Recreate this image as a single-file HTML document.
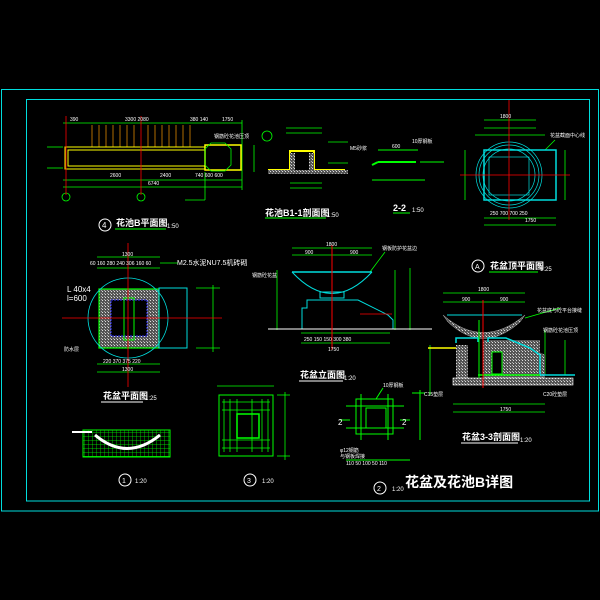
<!DOCTYPE html>
<html><head><meta charset="utf-8"><style>
html,body{margin:0;padding:0;background:#000;}
svg{display:block}
text{font-family:"Liberation Sans","Noto Sans CJK SC",sans-serif;}
</style></head><body>
<svg width="600" height="600" viewBox="0 0 600 600" xmlns="http://www.w3.org/2000/svg">
<defs>
<pattern id="hg" width="3" height="3" patternUnits="userSpaceOnUse"><rect width="3" height="3" fill="#555"/><rect width="1" height="1" fill="#ddd"/><rect x="2" y="2" width="1" height="1" fill="#aaa"/></pattern>
<pattern id="grid" width="4" height="4" patternUnits="userSpaceOnUse"><path d="M0 0H4M0 0V4" stroke="#0f0" stroke-width="0.7"/></pattern>
</defs>
<rect width="600" height="600" fill="#000"/>
<!-- frame -->
<rect x="1.5" y="89.5" width="597" height="421.5" fill="none" stroke="#0dd" stroke-width="1"/>
<rect x="26.5" y="99.5" width="563" height="401.5" fill="none" stroke="#0dd" stroke-width="1"/>

<!-- ===== Plan 4 ===== -->
<g stroke="#0f0" stroke-width="0.8" fill="none">
<line x1="63" y1="123" x2="242" y2="123"/><line x1="63" y1="180" x2="242" y2="180"/><line x1="63" y1="187" x2="242" y2="187"/>
<line x1="47" y1="147" x2="63" y2="147"/><line x1="47" y1="168" x2="63" y2="168"/>
<line x1="242" y1="120" x2="242" y2="190"/><line x1="254" y1="145" x2="254" y2="172"/>
<line x1="205" y1="200" x2="205" y2="172"/><line x1="185" y1="200" x2="205" y2="200"/>
<circle cx="66" cy="197" r="4"/><circle cx="141" cy="197" r="4"/>
</g>
<g stroke="#d80" stroke-width="0.8">
<line x1="92" y1="125" x2="92" y2="147"/><line x1="99" y1="125" x2="99" y2="147"/><line x1="106" y1="125" x2="106" y2="147"/><line x1="113" y1="125" x2="113" y2="147"/><line x1="120" y1="125" x2="120" y2="147"/><line x1="127" y1="125" x2="127" y2="147"/><line x1="134" y1="125" x2="134" y2="147"/><line x1="148" y1="125" x2="148" y2="147"/><line x1="155" y1="125" x2="155" y2="147"/><line x1="162" y1="125" x2="162" y2="147"/><line x1="169" y1="125" x2="169" y2="147"/><line x1="176" y1="125" x2="176" y2="147"/><line x1="183" y1="125" x2="183" y2="147"/><line x1="190" y1="125" x2="190" y2="147"/>
</g>
<g stroke="#ff0" stroke-width="1" fill="none">
<rect x="65" y="147" width="140" height="22"/><rect x="68" y="150" width="137" height="16"/>
<rect x="205" y="145" width="36" height="25" stroke-width="1.5"/>
</g>
<polygon points="211,143 225,143 231,149 231,165 225,171 211,171 205,165 205,149" fill="none" stroke="#0f0" stroke-width="0.8"/>
<line x1="66" y1="116" x2="66" y2="195" stroke="#f00" stroke-width="0.8"/>
<line x1="141" y1="116" x2="141" y2="195" stroke="#f00" stroke-width="0.8"/>
<g fill="#fff" font-size="5">
<text x="70" y="121">390</text><text x="125" y="121">3300  2080</text><text x="190" y="121">380 140</text><text x="222" y="121">1750</text>
<text x="110" y="177">2600</text><text x="160" y="177">2400</text><text x="195" y="177">740  600  600</text><text x="148" y="185">6740</text>
<text x="214" y="138">钢筋砼花池压顶</text>
</g>
<circle cx="105" cy="225" r="6" fill="none" stroke="#fff" stroke-width="1"/><text x="102" y="228" fill="#fff" font-size="8">4</text>
<text x="116" y="226" fill="#fff" font-size="9" font-weight="bold">花池B平面图</text><line x1="115" y1="229" x2="166" y2="229" stroke="#0f0"/><text x="167" y="228" fill="#fff" font-size="6">1:50</text>

<!-- ===== Section 1-1 ===== -->
<g stroke="#0f0" stroke-width="0.8" fill="none">
<line x1="286" y1="133" x2="322" y2="133"/><line x1="286" y1="128" x2="322" y2="128"/>
<line x1="290" y1="183" x2="322" y2="183"/><line x1="290" y1="188" x2="322" y2="188"/>
<line x1="328" y1="142" x2="348" y2="142"/><line x1="328" y1="163" x2="348" y2="163"/>
<circle cx="267" cy="136" r="5"/>
</g>
<path d="M268 170 H290 V151 H314 V170 H345" fill="none" stroke="#ff0" stroke-width="2"/>
<rect x="290" y="153" width="5" height="17" fill="url(#hg)"/><rect x="309" y="153" width="5" height="17" fill="url(#hg)"/>
<rect x="268" y="170" width="80" height="4" fill="url(#hg)"/>
<text x="265" y="216" fill="#fff" font-size="9" font-weight="bold">花池B1-1剖面图</text><line x1="265" y1="218" x2="326" y2="218" stroke="#0f0"/><text x="327" y="217" fill="#fff" font-size="6">1:50</text>

<!-- ===== 2-2 ===== -->
<g stroke="#0f0" stroke-width="1" fill="none">
<line x1="378" y1="150" x2="418" y2="150"/>
<line x1="378" y1="162" x2="416" y2="162" stroke-width="2"/><line x1="372" y1="165" x2="378" y2="162" stroke-width="2"/>
<line x1="420" y1="162" x2="444" y2="162"/><line x1="372" y1="180" x2="425" y2="180"/>
</g>
<g fill="#fff" font-size="5"><text x="392" y="148">600</text><text x="412" y="143">10厚钢板</text><text x="350" y="150">M5砂浆</text></g>
<text x="393" y="211" fill="#fff" font-size="9" font-weight="bold">2-2</text><line x1="393" y1="213" x2="410" y2="213" stroke="#0f0"/><text x="412" y="212" fill="#fff" font-size="6">1:50</text>

<!-- ===== Plan A ===== -->
<g stroke="#0f0" stroke-width="0.8" fill="none">
<line x1="484" y1="120" x2="536" y2="120"/><line x1="484" y1="128" x2="536" y2="128"/><line x1="475" y1="135" x2="545" y2="135"/>
<line x1="465" y1="150" x2="465" y2="200"/><line x1="565" y1="150" x2="565" y2="200"/>
<line x1="484" y1="218" x2="556" y2="218"/><line x1="484" y1="225" x2="556" y2="225"/>
<line x1="545" y1="150" x2="555" y2="140"/>
</g>
<rect x="484" y="150" width="72" height="50" fill="none" stroke="#0dd" stroke-width="1.5"/>
<circle cx="509" cy="175" r="30" fill="none" stroke="#0dd" stroke-width="0.7"/>
<circle cx="509" cy="175" r="33" fill="none" stroke="#0dd" stroke-width="0.7"/>
<circle cx="509" cy="175" r="26" fill="none" stroke="#0dd" stroke-width="0.7"/>
<rect x="489" y="157" width="40" height="38" fill="none" stroke="#0dd" stroke-width="0.7"/>
<line x1="509" y1="100" x2="509" y2="220" stroke="#f00" stroke-width="0.8"/>
<line x1="460" y1="175" x2="570" y2="175" stroke="#f00" stroke-width="0.8"/>
<g fill="#fff" font-size="5"><text x="500" y="118">1800</text><text x="525" y="222">1750</text><text x="550" y="137">花盆截面中心线</text><text x="490" y="215">250  700  700  250</text></g>
<circle cx="478" cy="266" r="6" fill="none" stroke="#fff"/><text x="475" y="269" fill="#fff" font-size="7">A</text>
<text x="490" y="269" fill="#fff" font-size="9" font-weight="bold">花盆顶平面图</text><line x1="489" y1="272" x2="538" y2="272" stroke="#0f0"/><text x="540" y="271" fill="#fff" font-size="6">1:25</text>

<!-- ===== Flowerpot plan ===== -->
<g stroke="#0f0" stroke-width="0.8" fill="none">
<line x1="97" y1="257" x2="160" y2="257"/><line x1="97" y1="268" x2="160" y2="268"/>
<line x1="97" y1="364" x2="160" y2="364"/><line x1="97" y1="372" x2="160" y2="372"/>
<line x1="196" y1="288" x2="220" y2="288"/><line x1="196" y1="348" x2="220" y2="348"/><line x1="213" y1="285" x2="213" y2="352"/>
<line x1="160" y1="263" x2="178" y2="263"/>
</g>
<rect x="99" y="289" width="60" height="59" fill="url(#hg)"/>
<rect x="111" y="300" width="36" height="36" fill="#000" stroke="#33f" stroke-dasharray="2,1"/>
<rect x="99" y="289" width="60" height="59" fill="none" stroke="#0f0" stroke-width="1.2"/>
<rect x="124" y="298" width="10" height="42" fill="none" stroke="#0f0"/>
<rect x="159" y="288" width="28" height="60" fill="none" stroke="#0dd" stroke-width="1"/>
<circle cx="128" cy="318" r="40" fill="none" stroke="#0dd" stroke-width="0.8"/>
<line x1="62" y1="318" x2="222" y2="318" stroke="#f00" stroke-width="0.8"/>
<line x1="128" y1="243" x2="128" y2="387" stroke="#f00" stroke-width="0.8"/>
<g fill="#fff" font-size="5"><text x="122" y="256">1300</text><text x="90" y="265">60 160 280 240 306 160 60</text><text x="122" y="371">1300</text><text x="103" y="363">220 370 375 220</text></g>
<text x="177" y="265" fill="#fff" font-size="7">M2.5水泥NU7.5机砖砌</text>
<text x="67" y="292" fill="#fff" font-size="8">L 40x4</text><text x="67" y="301" fill="#fff" font-size="8">l=600</text>
<text x="64" y="351" fill="#fff" font-size="5">防水层</text>
<text x="103" y="399" fill="#fff" font-size="9" font-weight="bold">花盆平面图</text><line x1="101" y1="402" x2="143" y2="402" stroke="#fff"/><text x="145" y="400" fill="#fff" font-size="6">1:25</text>

<!-- ===== Detail 1 ===== -->
<rect x="83" y="430" width="87" height="27" fill="url(#grid)" stroke="#0f0"/>
<path d="M95 435 Q127 462 160 435" fill="none" stroke="#fff" stroke-width="3"/>
<line x1="72" y1="432" x2="92" y2="432" stroke="#fff" stroke-width="2"/>
<circle cx="125" cy="480" r="6" fill="none" stroke="#fff"/><text x="122" y="483" fill="#fff" font-size="7">1</text><text x="135" y="483" fill="#fff" font-size="6">1:20</text>

<!-- ===== Detail 3 ===== -->
<rect x="219" y="395" width="54" height="61" fill="none" stroke="#0f0" stroke-width="1"/>
<g stroke="#0f0" stroke-width="0.8">
<line x1="224" y1="399" x2="224" y2="452"/><line x1="230" y1="399" x2="230" y2="452"/><line x1="237" y1="399" x2="237" y2="452"/><line x1="252" y1="399" x2="252" y2="452"/><line x1="262" y1="399" x2="262" y2="452"/><line x1="268" y1="399" x2="268" y2="452"/>
<line x1="222" y1="402" x2="270" y2="402"/><line x1="222" y1="410" x2="270" y2="410"/><line x1="222" y1="440" x2="270" y2="440"/><line x1="222" y1="448" x2="270" y2="448"/>
<line x1="217" y1="386" x2="274" y2="386"/><line x1="277" y1="395" x2="290" y2="395"/><line x1="277" y1="456" x2="290" y2="456"/><line x1="285" y1="392" x2="285" y2="460"/>
</g>
<rect x="237" y="414" width="22" height="24" fill="none" stroke="#0f0" stroke-width="1.5"/>
<circle cx="250" cy="480" r="6" fill="none" stroke="#fff"/><text x="247" y="483" fill="#fff" font-size="7">3</text><text x="262" y="483" fill="#fff" font-size="6">1:20</text>

<!-- ===== Elevation ===== -->
<g stroke="#0f0" stroke-width="0.8" fill="none">
<line x1="292" y1="248" x2="372" y2="248"/><line x1="292" y1="255" x2="372" y2="255"/>
<line x1="277" y1="270" x2="277" y2="330"/><line x1="395" y1="270" x2="395" y2="330"/><line x1="410" y1="268" x2="410" y2="330"/>
<line x1="301" y1="333" x2="390" y2="333"/><line x1="301" y1="343" x2="390" y2="343"/>
<line x1="370" y1="272" x2="385" y2="252"/>
</g>
<line x1="292" y1="272" x2="372" y2="272" stroke="#0dd" stroke-width="1.5"/>
<path d="M292 272 Q332 315 372 272" fill="none" stroke="#0dd" stroke-width="1"/>
<rect x="320" y="292" width="24" height="6" fill="none" stroke="#0dd"/>
<path d="M307 300 H358 L388 315 L393 320 V329 H302 V308 H307 Z" fill="none" stroke="#0dd" stroke-width="1"/>
<line x1="268" y1="329" x2="432" y2="329" stroke="#fff" stroke-width="1"/>
<line x1="332" y1="245" x2="332" y2="350" stroke="#f00" stroke-width="1"/>
<line x1="360" y1="314" x2="392" y2="314" stroke="#f00" stroke-width="0.8"/>
<g fill="#fff" font-size="5"><text x="326" y="246">1800</text><text x="305" y="254">900</text><text x="350" y="254">900</text><text x="328" y="351">1750</text><text x="304" y="341">250 150 150 300 380</text><text x="382" y="250">钢板防护花盆边</text><text x="252" y="277">钢筋砼花盆</text></g>
<text x="300" y="378" fill="#fff" font-size="9" font-weight="bold">花盆立面图</text><line x1="299" y1="381" x2="343" y2="381" stroke="#fff"/><text x="344" y="380" fill="#fff" font-size="6">1:20</text>

<!-- ===== Detail 2 ===== -->
<g stroke="#0f0" stroke-width="1" fill="none">
<rect x="356" y="399" width="37" height="35"/>
<path d="M366 408 H386 V428 H366 Z"/>
<line x1="346" y1="406" x2="404" y2="406"/><line x1="346" y1="428" x2="404" y2="428"/>
<line x1="361" y1="394" x2="361" y2="440"/><line x1="388" y1="394" x2="388" y2="440"/>
<line x1="346" y1="460" x2="410" y2="460"/><line x1="412" y1="393" x2="425" y2="393"/><line x1="420" y1="390" x2="420" y2="440"/>
<line x1="340" y1="420" x2="350" y2="420"/><line x1="400" y1="420" x2="410" y2="420"/>
<line x1="376" y1="399" x2="383" y2="388"/>
</g>
<g fill="#fff" font-size="5"><text x="383" y="387">10厚钢板</text><text x="340" y="452">φ12钢筋</text><text x="340" y="458">与钢板焊接</text><text x="346" y="465">110 50  100  50  110</text></g>
<text x="338" y="425" fill="#fff" font-size="8">2</text><text x="402" y="425" fill="#fff" font-size="8">2</text>
<circle cx="380" cy="488" r="6" fill="none" stroke="#fff"/><text x="377" y="491" fill="#fff" font-size="7">2</text><text x="392" y="491" fill="#fff" font-size="6">1:20</text>
<text x="405" y="487" fill="#fff" font-size="14" font-weight="bold">花盆及花池B详图</text>

<!-- ===== Section 3-3 ===== -->
<g stroke="#0f0" stroke-width="0.8" fill="none">
<line x1="443" y1="293" x2="525" y2="293"/><line x1="443" y1="302" x2="525" y2="302"/>
<line x1="453" y1="404" x2="545" y2="404"/><line x1="453" y1="412" x2="545" y2="412"/>
<line x1="430" y1="345" x2="430" y2="395"/><line x1="545" y1="330" x2="545" y2="375"/><line x1="565" y1="340" x2="565" y2="375"/>
<line x1="525" y1="318" x2="560" y2="308"/>
</g>
<path d="M443 315 Q483 350 525 315 L520 322 Q483 355 448 322 Z" fill="url(#hg)" stroke="#aaa" stroke-width="0.5"/>
<line x1="447" y1="315" x2="522" y2="315" stroke="#0dd" stroke-width="1"/>
<rect x="456" y="345" width="12" height="33" fill="url(#hg)"/>
<rect x="483" y="340" width="57" height="38" fill="url(#hg)"/>
<path d="M515 340 L545 355 V378 H515 Z" fill="url(#hg)"/>
<rect x="492" y="352" width="10" height="22" fill="#000" stroke="#0f0"/>
<path d="M456 343 V338 H478 V342 M488 342 V338 H506 L530 348 L540 355 V375 H575" fill="none" stroke="#0dd" stroke-width="1.5"/>
<rect x="453" y="378" width="120" height="7" fill="url(#hg)" stroke="#fff" stroke-width="0.6"/>
<line x1="478" y1="375" x2="540" y2="375" stroke="#0f0" stroke-width="1.5"/>
<line x1="428" y1="348" x2="456" y2="348" stroke="#ff0" stroke-width="1.5"/>
<line x1="483" y1="300" x2="483" y2="388" stroke="#f00" stroke-width="1"/>
<line x1="479" y1="320" x2="479" y2="378" stroke="#0f0" stroke-width="1"/>
<g fill="#fff" font-size="5"><text x="478" y="291">1800</text><text x="462" y="301">900</text><text x="500" y="301">900</text><text x="500" y="411">1750</text><text x="537" y="312">花盆底与砼平台接缝</text><text x="543" y="332">钢筋砼花池压顶</text><text x="424" y="396">C15垫层</text><text x="543" y="396">C20砼垫层</text></g>
<text x="462" y="440" fill="#fff" font-size="9" font-weight="bold">花盆3-3剖面图</text><line x1="461" y1="443" x2="518" y2="443" stroke="#fff"/><text x="520" y="442" fill="#fff" font-size="6">1:20</text>
</svg>
</body></html>
